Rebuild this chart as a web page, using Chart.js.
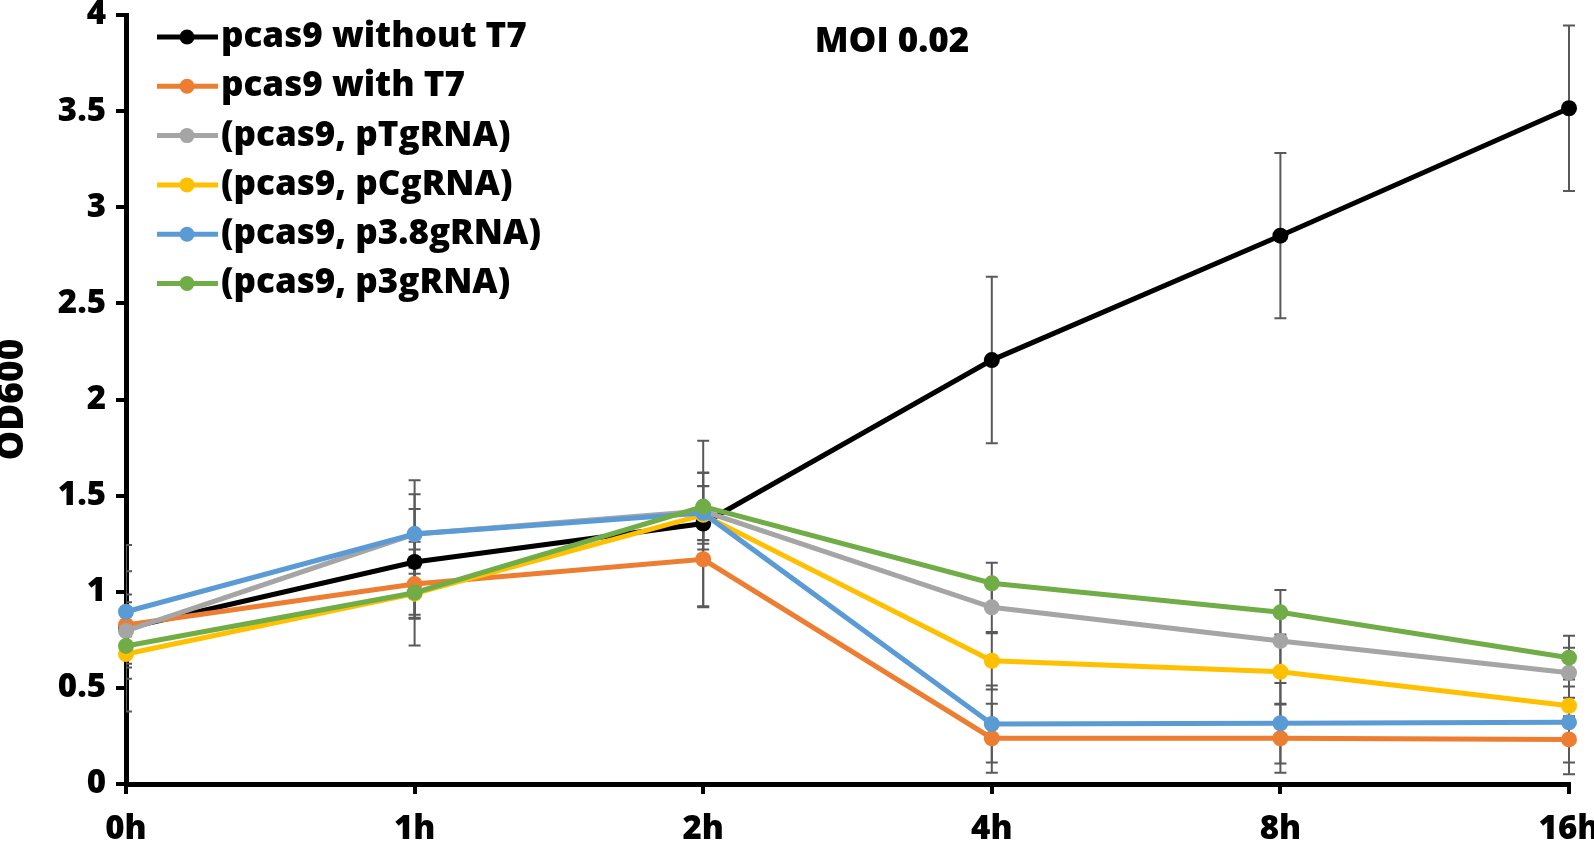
<!DOCTYPE html>
<html lang="en">
<head>
<meta charset="UTF-8">
<title>OD600 - MOI 0.02</title>
<script src="https://cdn.jsdelivr.net/npm/chart.js@4.4.0/dist/chart.umd.min.js"></script>
<style>
    html, body { margin: 0; padding: 0; background: #fff; }
    #wrap { width: 1594px; height: 841px; }
</style>
</head>
<body>
<div id="wrap"><canvas id="myChart"></canvas></div>

<script>
    // time points
    const hours = ['0h', '1h', '2h', '4h', '8h', '16h'];

    // series names and colours
    const names = ['pcas9 without T7', 'pcas9 with T7', '(pcas9, pTgRNA)', '(pcas9, pCgRNA)', '(pcas9, p3.8gRNA)', '(pcas9, p3gRNA)'];
    const colors = ['#000000', '#ED7D31', '#A5A5A5', '#FFC000', '#5B9BD5', '#70AD47'];

    // OD600 means
    const withoutT7 = [0.81, 1.155, 1.355, 2.205, 2.852, 3.515];
    const withT7 = [0.827, 1.04, 1.169, 0.238, 0.238, 0.232];
    const pTgRNA = [0.796, 1.30, 1.42, 0.919, 0.744, 0.579];
    const pCgRNA = [0.676, 0.99, 1.40, 0.641, 0.584, 0.407];
    const p38gRNA = [0.896, 1.30, 1.409, 0.312, 0.316, 0.321];
    const p3gRNA = [0.718, 0.995, 1.443, 1.044, 0.893, 0.657];

    // error bars (+/-)
    const errWithoutT7 = [0.433, 0.275, 0.43, 0.433, 0.43, 0.43];
    const errWithT7 = [0.28, 0.18, 0.25, 0.18, 0.18, 0.12];
    const errPTgRNA = [0.19, 0.207, 0.2, 0.135, 0.15, 0.13];
    const errPCgRNA = [0.05, 0.27, 0.15, 0.15, 0.17, 0.1];
    const errP38gRNA = [0.05, 0.28, 0.14, 0.2, 0.21, 0.27];
    const errP3gRNA = [0.05, 0.13, 0.175, 0.107, 0.116, 0.114];

    const series = [withoutT7, withT7, pTgRNA, pCgRNA, p38gRNA, p3gRNA];
    const errors = [errWithoutT7, errWithT7, errPTgRNA, errPCgRNA, errP38gRNA, errP3gRNA];

    const FONT = "'Open Sans', 'DejaVu Sans', sans-serif";

    // error bars under the lines
    const errorBars = {
        id: 'errorBars',
        beforeDatasetsDraw(chart) {
            const ctx = chart.ctx;
            const y = chart.scales.y;
            const area = chart.chartArea;
            ctx.save();
            ctx.beginPath();
            ctx.rect(area.left, 0, chart.width - area.left, chart.height);
            ctx.clip();
            ctx.strokeStyle = '#595959';
            ctx.lineWidth = 2;
            chart.data.datasets.forEach((ds, i) => {
                const meta = chart.getDatasetMeta(i);
                meta.data.forEach((pt, j) => {
                    const e = errors[i][j];
                    const top = y.getPixelForValue(ds.data[j] + e);
                    const bot = y.getPixelForValue(ds.data[j] - e);
                    ctx.beginPath();
                    ctx.moveTo(pt.x, top);
                    ctx.lineTo(pt.x, bot);
                    ctx.moveTo(pt.x - 6, top);
                    ctx.lineTo(pt.x + 6, top);
                    ctx.moveTo(pt.x - 6, bot);
                    ctx.lineTo(pt.x + 6, bot);
                    ctx.stroke();
                });
            });
            ctx.restore();
        }
    };

    // legend inside the plot + MOI label
    const legendAndTitle = {
        id: 'legendAndTitle',
        afterDraw(chart) {
            const ctx = chart.ctx;
            ctx.save();
            ctx.font = '800 35px ' + FONT;
            ctx.textBaseline = 'middle';
            ctx.fillStyle = '#000';
            chart.data.datasets.forEach((ds, i) => {
                const yy = 37 + i * 49.3;
                ctx.strokeStyle = ds.borderColor;
                ctx.lineWidth = 5;
                ctx.beginPath();
                ctx.moveTo(157, yy);
                ctx.lineTo(218, yy);
                ctx.stroke();
                ctx.fillStyle = ds.borderColor;
                ctx.beginPath();
                ctx.arc(187, yy, 7.5, 0, Math.PI * 2);
                ctx.fill();
                ctx.fillStyle = '#000';
                ctx.textAlign = 'left';
                ctx.fillText(ds.label, 221, yy);
            });
            ctx.textAlign = 'center';
            ctx.fillText('MOI 0.02', 892, 42);
            ctx.restore();
        }
    };

    const ctx = document.getElementById('myChart');

    new Chart(ctx, {
        type: 'line',
        data: {
            labels: hours,
            datasets: series.map((d, i) => ({
                label: names[i],
                data: d,
                borderColor: colors[i],
                backgroundColor: colors[i],
                pointBackgroundColor: colors[i],
                borderWidth: 5,
                pointRadius: 8,
                pointHoverRadius: 8,
                pointBorderWidth: 0,
                tension: 0,
                clip: false,
                order: series.length - i
            }))
        },
        options: {
            responsive: true,
            maintainAspectRatio: false,
            animation: false,
            layout: {
                padding: { top: 15, right: 25, left: 0, bottom: 0 }
            },
            scales: {
                x: {
                    offset: false,
                    grid: { drawOnChartArea: false, drawTicks: true, tickLength: 10, color: '#000', lineWidth: 4 },
                    border: { color: '#000', width: 5 },
                    ticks: {
                        color: '#000',
                        font: { family: FONT, size: 33, weight: 800 },
                        padding: 16,
                        maxRotation: 0,
                        autoSkip: false
                    },
                    afterFit(s) {
                        s.height = 57;
                        s.paddingLeft = 0;
                        s.paddingRight = 0;
                    }
                },
                y: {
                    min: 0,
                    max: 4,
                    grid: { drawOnChartArea: false, drawTicks: true, tickLength: 10, color: '#000', lineWidth: 4 },
                    border: { color: '#000', width: 5 },
                    ticks: {
                        stepSize: 0.5,
                        color: '#000',
                        font: { family: FONT, size: 33, weight: 800 },
                        padding: 10,
                        callback: (v) => String(v)
                    },
                    title: {
                        display: true,
                        text: 'OD600',
                        color: '#000',
                        font: { family: FONT, size: 37, weight: 800, lineHeight: 1 },
                        padding: { top: -6, bottom: 0 }
                    },
                    afterFit(s) {
                        s.width = 126;
                        s.paddingTop = 0;
                        s.paddingBottom = 0;
                    }
                }
            },
            plugins: {
                legend: { display: false },
                tooltip: { enabled: false }
            }
        },
        plugins: [errorBars, legendAndTitle]
    });
</script>
</body>
</html>
